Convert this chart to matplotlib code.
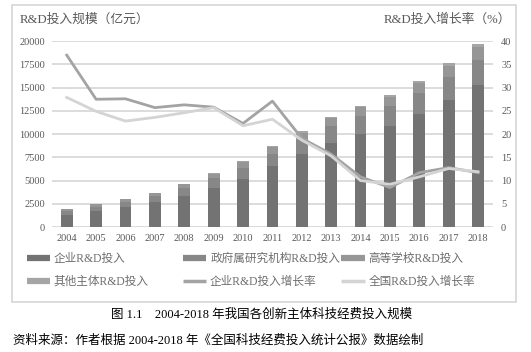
import numpy as np
import matplotlib
matplotlib.use('Agg')
from matplotlib import pyplot as plt
from matplotlib.lines import Line2D
from matplotlib.patches import Rectangle

plt.rcParams['font.family'] = ['Liberation Serif', 'Noto Sans CJK SC', 'DejaVu Sans']

years = ['2004', '2005', '2006', '2007', '2008', '2009', '2010', '2011',
         '2012', '2013', '2014', '2015', '2016', '2017', '2018']

# R&D input by performer (100 million yuan)
enterprise = [1314, 1673, 2135, 2682, 3382, 4249, 5186, 6579, 7842, 9076, 10061, 10881, 12144, 13660, 15234]
government = [431, 513, 567, 687, 811, 996, 1186, 1307, 1548, 1781, 1926, 2136, 2260, 2436, 2691]
university = [200, 242, 277, 315, 390, 468, 597, 688, 780, 856, 898, 998, 1073, 1266, 1457]
other = [21, 22, 24, 26, 33, 89, 94, 113, 128, 134, 131, 155, 200, 244, 296]

# growth rates (%)
growth_enterprise = [37.0, 27.5, 27.6, 25.7, 26.3, 25.8, 22.3, 27.1, 19.1, 15.7, 10.8, 8.5, 11.7, 12.8, 11.7]
growth_total = [27.9, 24.9, 22.8, 23.6, 24.6, 25.7, 21.8, 23.2, 18.7, 15.3, 10.0, 9.2, 10.8, 12.6, 11.9]

c_ent, c_gov, c_uni, c_oth = '#737373', '#878787', '#969696', '#a5a5a5'
c_gent, c_gtot = '#a3a3a3', '#d4d4d4'
tick_col = '#595959'
grid_col = '#d9d9d9'

fig = plt.figure(figsize=(5.31, 3.52), dpi=100)
ax = fig.add_axes([0.098, 0.355, 0.830, 0.528])
ax2 = ax.twinx()

x = np.arange(len(years))
w = 0.4
b1 = np.array(enterprise)
b2 = b1 + np.array(government)
b3 = b2 + np.array(university)
ax.bar(x, enterprise, w, color=c_ent, zorder=2)
ax.bar(x, government, w, bottom=b1, color=c_gov, zorder=2)
ax.bar(x, university, w, bottom=b2, color=c_uni, zorder=2)
ax.bar(x, other, w, bottom=b3, color=c_oth, zorder=2)

ax2.plot(x, growth_enterprise, color=c_gent, lw=2.0, solid_joinstyle='round')
ax2.plot(x, growth_total, color=c_gtot, lw=2.0, solid_joinstyle='round')

ax.set_xlim(-0.5, len(years) - 0.5)
ax.set_ylim(0, 20000)
ax.set_yticks(np.arange(0, 20001, 2500))
ax2.set_ylim(0, 40)
ax2.set_yticks(np.arange(0, 41, 5))
ax.set_xticks(x)
ax.set_xticklabels(years)
ax.yaxis.grid(True, color=grid_col, lw=1.3, zorder=0)
ax.set_axisbelow(True)

for a in (ax, ax2):
    for s in a.spines.values():
        s.set_visible(False)
    a.tick_params(length=0, labelsize=7.5, colors=tick_col)
ax.tick_params(axis='x', pad=5)
ax.tick_params(axis='y', pad=5)
ax2.tick_params(axis='y', pad=6)

fig.text(0.038, 0.945, 'R&D投入规模（亿元）', fontsize=9.2, color=tick_col, va='center')
fig.text(0.962, 0.945, 'R&D投入增长率（%）', fontsize=9.2, color=tick_col, va='center', ha='right')

# legend, three columns laid out in rows
def bar_handle(c):
    return Line2D([], [], color=c, lw=4.5, solid_capstyle='butt')

def line_handle(c):
    return Line2D([], [], color=c, lw=2.5, solid_capstyle='butt')

cols = [
    ([bar_handle(c_ent), bar_handle(c_oth)], ['企业R&D投入', '其他主体R&D投入'], 0.05),
    ([bar_handle(c_gov), line_handle(c_gent)], ['政府属研究机构R&D投入', '企业R&D投入增长率'], 0.344),
    ([bar_handle(c_uni), line_handle(c_gtot)], ['高等学校R&D投入', '全国R&D投入增长率'], 0.643),
]
for hs, labs, xpos in cols:
    fig.legend(hs, labs, loc='upper left', bbox_to_anchor=(xpos, 0.281),
               frameon=False, fontsize=8.4, labelcolor='#6e6e6e', handlelength=2.0,
               handletextpad=0.35, labelspacing=0.92, borderpad=0, borderaxespad=0)

fig.add_artist(Rectangle((0.023, 0.142), 0.949, 0.843, transform=fig.transFigure,
                         fill=False, edgecolor=grid_col, lw=1.3))

fig.text(0.493, 0.105, '图 1.1    2004-2018 年我国各创新主体科技经费投入规模',
         fontsize=9, ha='center', va='center')
fig.text(0.024, 0.032, '资料来源：作者根据 2004-2018 年《全国科技经费投入统计公报》数据绘制',
         fontsize=9, ha='left', va='center')

fig.savefig('out.png', dpi=100)
